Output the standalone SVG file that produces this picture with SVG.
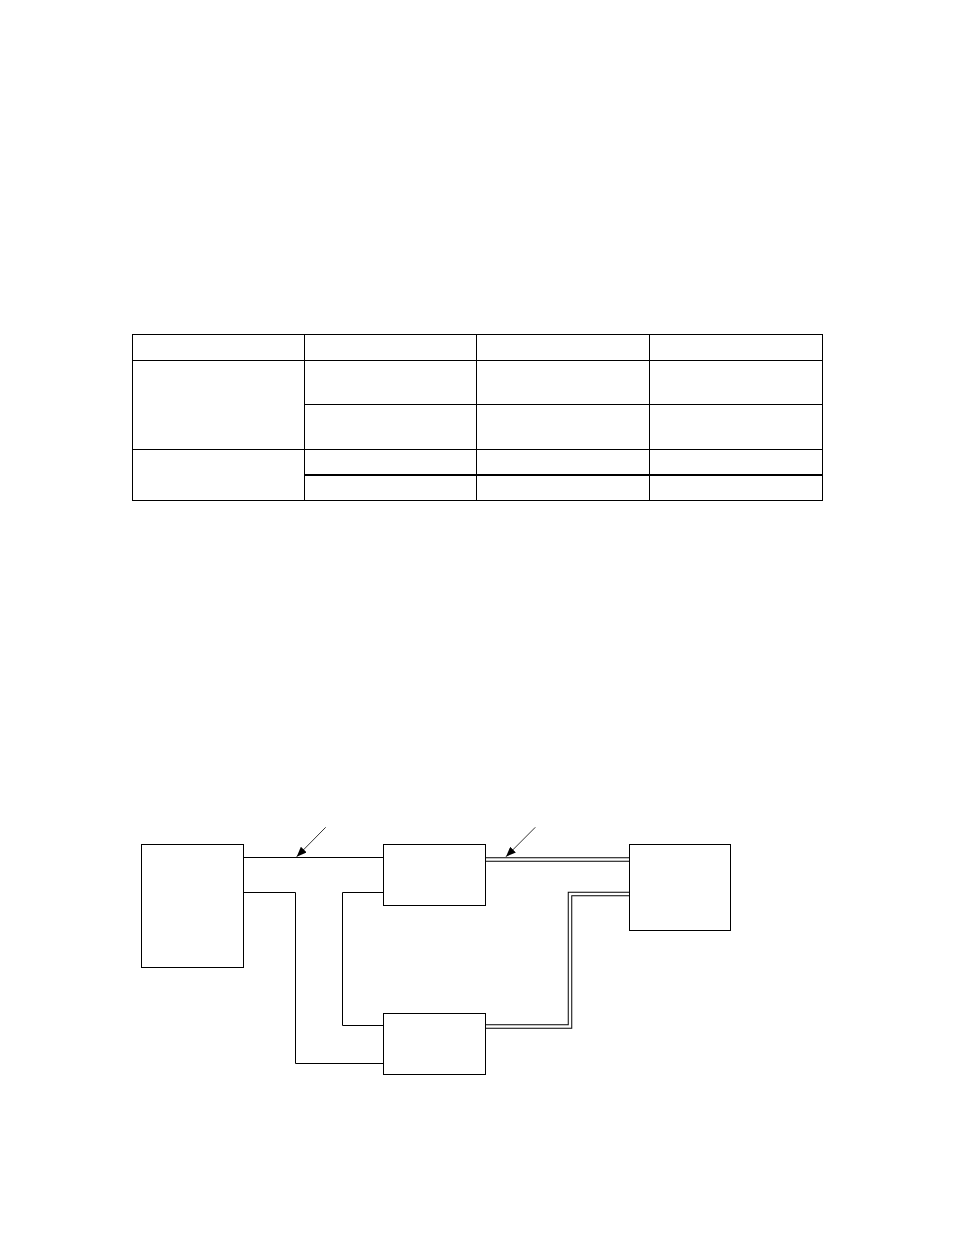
<svg xmlns="http://www.w3.org/2000/svg" width="954" height="1235" viewBox="0 0 954 1235">
  <style>
    .box { fill: #ffffff; stroke: #000000; stroke-width: 1; }
    .tl { stroke: #000000; stroke-width: 1; fill: none; }
    .thick { stroke: #000000; stroke-width: 2; fill: none; }
    .wire { stroke: #000000; stroke-width: 1; fill: none; }
    .dbl-out { stroke: #000000; stroke-width: 4.5; fill: none; stroke-linejoin: miter; }
    .dbl-in { stroke: #ffffff; stroke-width: 2.5; fill: none; stroke-linejoin: miter; }
    .ptr { stroke: #333333; stroke-width: 1; fill: none; }
  </style>
  <defs>
    <marker id="ah" markerUnits="userSpaceOnUse" markerWidth="10" markerHeight="8" refX="10" refY="4" orient="auto">
      <path d="M0,0 L10,4 L0,8 z" fill="#000000"/>
    </marker>
  </defs>
  <rect x="0" y="0" width="954" height="1235" fill="#ffffff"/>

  <g id="table">
    <rect class="tl" x="132.5" y="334.5" width="690" height="166"/>
    <line class="tl" x1="132.5" y1="360.5" x2="822.5" y2="360.5"/>
    <line class="tl" x1="304.5" y1="404.5" x2="822.5" y2="404.5"/>
    <line class="tl" x1="132.5" y1="449.5" x2="822.5" y2="449.5"/>
    <line class="thick" x1="304.5" y1="475" x2="822.5" y2="475"/>
    <line class="tl" x1="304.5" y1="334.5" x2="304.5" y2="500.5"/>
    <line class="tl" x1="476.5" y1="334.5" x2="476.5" y2="500.5"/>
    <line class="tl" x1="649.5" y1="334.5" x2="649.5" y2="500.5"/>
  </g>

  <g id="connectors">
    <line class="wire" x1="243.5" y1="857.5" x2="383.5" y2="857.5"/>
    <polyline class="wire" points="243.5,892.5 295.5,892.5 295.5,1063.5 383.5,1063.5"/>
    <polyline class="wire" points="383.5,892.5 342.5,892.5 342.5,1025.5 383.5,1025.5"/>
    <path class="dbl-out" d="M484,859.5 H629.5"/>
    <path class="dbl-in" d="M484,859.5 H629.5"/>
    <path class="dbl-out" d="M484,1026.5 H570 V894 H629.5"/>
    <path class="dbl-in" d="M484,1026.5 H570 V894 H629.5"/>
    <line class="ptr" x1="325.7" y1="827.3" x2="296.7" y2="856.7" marker-end="url(#ah)"/>
    <line class="ptr" x1="535.3" y1="827.3" x2="506" y2="856.7" marker-end="url(#ah)"/>
  </g>

  <g id="node-left">
    <rect class="box" x="141.5" y="844.5" width="102" height="123"/>
  </g>
  <g id="node-mid-top">
    <rect class="box" x="383.5" y="844.5" width="102" height="61"/>
  </g>
  <g id="node-mid-bottom">
    <rect class="box" x="383.5" y="1013.5" width="102" height="61"/>
  </g>
  <g id="node-right">
    <rect class="box" x="629.5" y="844.5" width="101" height="86"/>
  </g>
</svg>
